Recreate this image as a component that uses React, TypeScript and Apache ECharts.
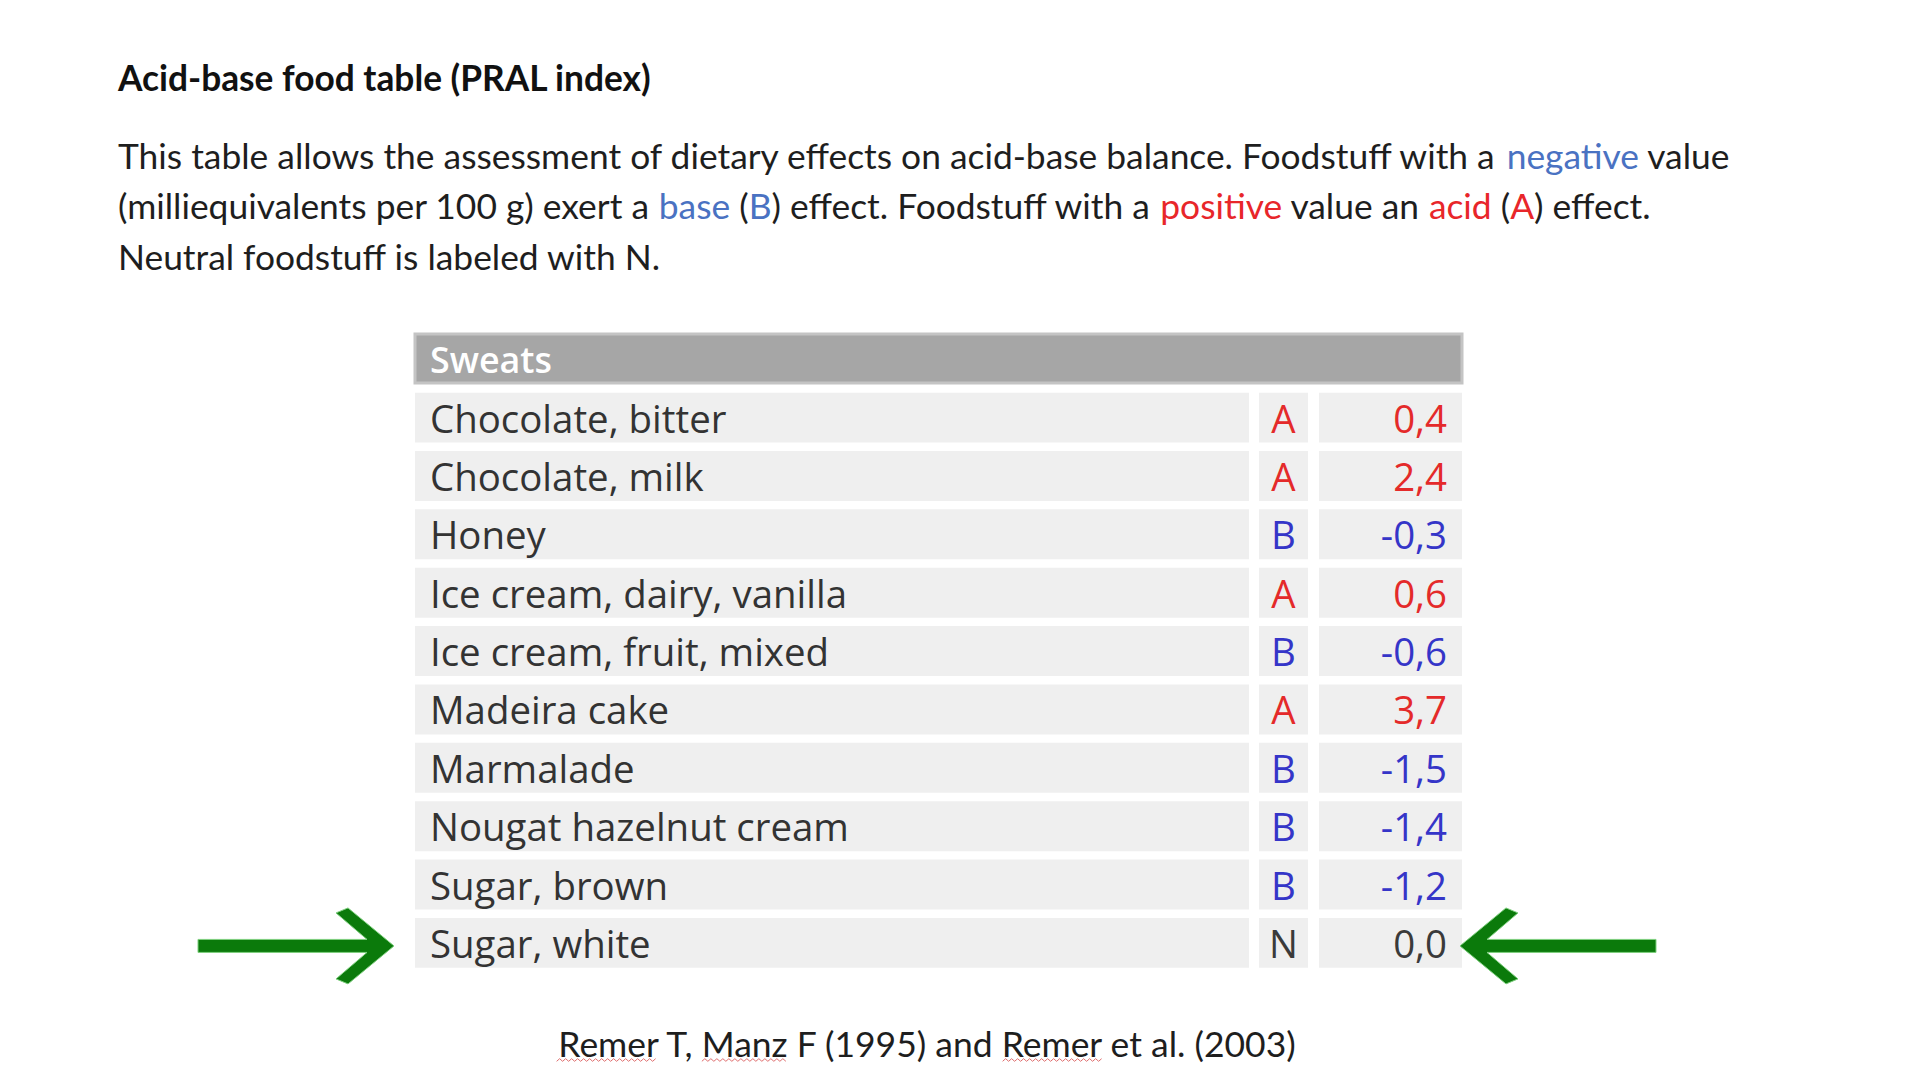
import React, { useEffect, useRef } from "react";
import * as echarts from "echarts";

// ---------- data ----------
const title = "Acid-base food table (PRAL index)";
const introLine1: [string, string][] = [
  ["This table allows the assessment of dietary effects on acid-base balance. Foodstuff with a ", "t"],
  ["negative", "b"],
  [" value", "t"],
];
const introLine2: [string, string][] = [
  ["(milliequivalents per 100 g) exert a ", "t"],
  ["base", "b"],
  [" (", "t"],
  ["B", "b"],
  [") effect. Foodstuff with a ", "t"],
  ["positive", "r"],
  [" value an ", "t"],
  ["acid", "r"],
  [" (", "t"],
  ["A", "r"],
  [") effect.", "t"],
];
const introLine3: [string, string][] = [["Neutral foodstuff is labeled with N.", "t"]];
const groupName = "Sweats";
const foods = [
  "Chocolate, bitter",
  "Chocolate, milk",
  "Honey",
  "Ice cream, dairy, vanilla",
  "Ice cream, fruit, mixed",
  "Madeira cake",
  "Marmalade",
  "Nougat hazelnut cream",
  "Sugar, brown",
  "Sugar, white",
];
const effects = ["A", "A", "B", "A", "B", "A", "B", "B", "B", "N"];
const pral = [0.4, 2.4, -0.3, 0.6, -0.6, 3.7, -1.5, -1.4, -1.2, 0.0];
const highlighted = "Sugar, white";
const citationParts = ["Remer", " T, ", "Manz", " F (1995) and ", "Remer", " et al. (2003)"];
const misspelled = [0, 2, 4];

// ---------- styles ----------
const TEXT = "#1e1e1e";
const BLUE_TXT = "#4a72c2";
const RED_TXT = "#e8262a";
const effectColor: Record<string, string> = { A: "#e42a2a", B: "#3535c8", N: "#3a3a3a" };
const CELL = "#efefef";
const GREEN = "#0b7a0b";
const PARA_FONT = "Lato";
const TABLE_FONT = "'Open Sans'";

function fmt(v: number) {
  return v.toFixed(1).replace(".", ",");
}

export default function App() {
  const ref = useRef<HTMLDivElement>(null);
  useEffect(() => {
    const el = ref.current!;
    const chart = echarts.init(el, null, { renderer: "svg" });
    const ctx = document.createElement("canvas").getContext("2d")!;
    const measure = (t: string, font: string) => {
      ctx.font = font;
      return ctx.measureText(t).width;
    };
    const fit = (t: string, fam: string, weight: string, target: number) =>
      (100 * target) / measure(t, `${weight} 100px ${fam}`);

    const titleSize = fit(title, PARA_FONT, "bold", 534);
    const paraSize = fit(introLine1.map((s) => s[0]).join(""), PARA_FONT, "normal", 1613);
    const citText = citationParts.join("");
    const citSize = fit(citText, PARA_FONT, "normal", 741);
    const tableSize = fit("Nougat hazelnut cream", TABLE_FONT, "normal", 419);
    const headSize = fit(groupName, TABLE_FONT, "600", 122);

    const rich = {
      t: { fill: TEXT, fontSize: paraSize, fontFamily: PARA_FONT },
      b: { fill: BLUE_TXT, fontSize: paraSize, fontFamily: PARA_FONT },
      r: { fill: RED_TXT, fontSize: paraSize, fontFamily: PARA_FONT },
    };
    const richLine = (segs: [string, string][]) => segs.map(([s, k]) => `{${k}|${s}}`).join("");

    const paraX = 118;
    const lineYs = [155.5, 205.7, 256];
    const lines = [introLine1, introLine2, introLine3];

    // citation with spell-check underlines
    const citFont = `normal ${citSize}px ${PARA_FONT}`;
    const citW = measure(citText, citFont);
    const citX0 = 927 - citW / 2;
    const citY = 1043;
    const underlines: any[] = [];
    let off = 0;
    citationParts.forEach((p, i) => {
      const w = measure(p, citFont);
      if (misspelled.includes(i)) {
        const pts: number[][] = [];
        const ux = citX0 + off;
        for (let k = 0; k * 3 <= w; k++) pts.push([ux + k * 3, citY + 17 + (k % 2 ? -1.3 : 1.3)]);
        underlines.push({
          type: "polyline",
          shape: { points: pts },
          style: { stroke: "#e07070", lineWidth: 1, fill: null },
        });
      }
      off += w;
    });

    const arrowPts = [
      [0, 0],
      [-46, -38],
      [-58, -33],
      [-27, -6.5],
      [-196, -6.5],
      [-196, 6.5],
      [-27, 6.5],
      [-58, 33],
      [-46, 38],
    ];

    const option: any = {
      animation: false,
      backgroundColor: "#ffffff",
      grid: { left: 415, top: 388.4, width: 1047, height: 583.7 },
      xAxis: { type: "value", min: 0, max: 1, show: false },
      yAxis: { type: "category", data: foods, inverse: true, show: false },
      graphic: [
        {
          type: "text",
          x: paraX,
          y: 77,
          style: {
            text: title,
            fill: "#111",
            fontSize: titleSize,
            fontFamily: PARA_FONT,
            fontWeight: "bold",
            verticalAlign: "middle",
          },
        },
        ...lines.map((ln, i) => ({
          type: "text",
          x: paraX,
          y: lineYs[i],
          style: { text: richLine(ln), rich, verticalAlign: "middle" },
        })),
        {
          type: "rect",
          shape: { x: 415, y: 334, width: 1047, height: 49 },
          style: { fill: "#a6a6a6", stroke: "#c4c4c4", lineWidth: 3 },
        },
        {
          type: "text",
          x: 430,
          y: 359,
          style: {
            text: groupName,
            fill: "#ffffff",
            fontSize: headSize,
            fontFamily: TABLE_FONT,
            fontWeight: 600,
            verticalAlign: "middle",
          },
        },
        {
          type: "text",
          x: 927,
          y: citY,
          style: {
            text: citText,
            fill: TEXT,
            fontSize: citSize,
            fontFamily: PARA_FONT,
            align: "center",
            verticalAlign: "middle",
          },
        },
        ...underlines,
      ],
      series: [
        {
          type: "custom",
          coordinateSystem: "cartesian2d",
          encode: { x: 0, y: 1 },
          data: foods.map((_, i) => [0, i]),
          renderItem: (params: any, api: any) => {
            const i = params.dataIndex;
            const [x0, yc] = api.coord([0, i]);
            const [x1] = api.coord([1, i]);
            const bh = api.size([0, 1])[1];
            const W = x1 - x0;
            const ch = bh * 0.855;
            const top = yc - ch / 2;
            const nameW = W * (834 / 1047);
            const letX = x0 + W * (844 / 1047);
            const letW = W * (49 / 1047);
            const valX = x0 + W * (904 / 1047);
            const valW = x1 - valX;
            const col = effectColor[effects[i]];
            const children: any[] = [
              { type: "rect", shape: { x: x0, y: top, width: nameW, height: ch }, style: { fill: CELL } },
              { type: "rect", shape: { x: letX, y: top, width: letW, height: ch }, style: { fill: CELL } },
              { type: "rect", shape: { x: valX, y: top, width: valW, height: ch }, style: { fill: CELL } },
              {
                type: "text",
                style: {
                  text: foods[i],
                  x: x0 + 15,
                  y: yc,
                  fill: "#333333",
                  fontSize: tableSize,
                  fontFamily: TABLE_FONT,
                  verticalAlign: "middle",
                },
              },
              {
                type: "text",
                style: {
                  text: effects[i],
                  x: letX + letW / 2,
                  y: yc,
                  fill: col,
                  fontSize: tableSize,
                  fontFamily: TABLE_FONT,
                  align: "center",
                  verticalAlign: "middle",
                },
              },
              {
                type: "text",
                style: {
                  text: fmt(pral[i]),
                  x: x1 - 15,
                  y: yc,
                  fill: col,
                  fontSize: tableSize,
                  fontFamily: TABLE_FONT,
                  align: "right",
                  verticalAlign: "middle",
                },
              },
            ];
            if (foods[i] === highlighted) {
              const lt = x0 - 21;
              const rt = x1 - 2;
              children.push({
                type: "polygon",
                shape: { points: arrowPts.map(([dx, dy]) => [lt + dx, yc + 3 + dy]) },
                style: { fill: GREEN, stroke: "#7fd07f", lineWidth: 1 },
              });
              children.push({
                type: "polygon",
                shape: { points: arrowPts.map(([dx, dy]) => [rt - dx, yc + 3 + dy]) },
                style: { fill: GREEN, stroke: "#7fd07f", lineWidth: 1 },
              });
            }
            return { type: "group", children };
          },
        },
      ],
    };
    chart.setOption(option);
    return () => chart.dispose();
  }, []);
  return (
    <div
      ref={ref}
      style={{ position: "fixed", left: 0, top: 0, width: 1920, height: 1080, background: "#ffffff" }}
    />
  );
}
